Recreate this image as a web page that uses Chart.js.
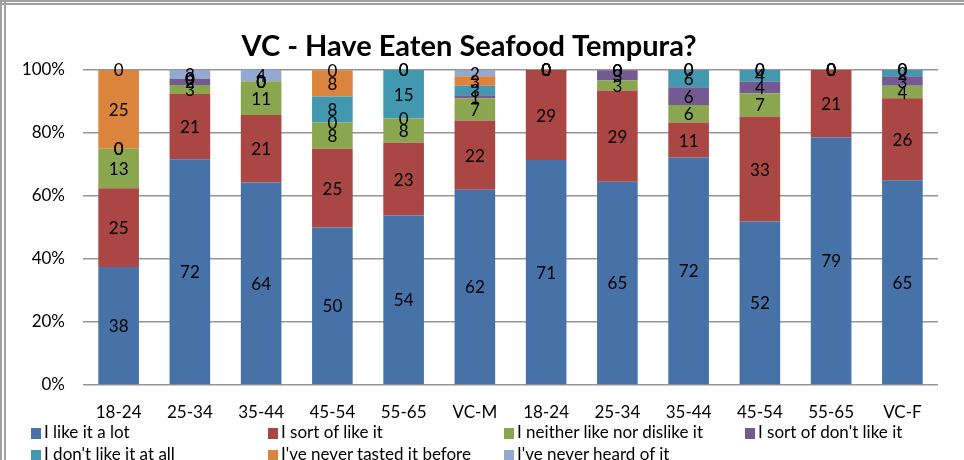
<!DOCTYPE html>
<html>
<head>
<meta charset="utf-8">
<script src="https://cdn.jsdelivr.net/npm/chart.js@4/dist/chart.umd.min.js"></script>
<style>
  html, body { margin: 0; padding: 0; background: #fff; }
  #wrap { position: relative; width: 964px; height: 460px; overflow: hidden; font-family: Lato, "Open Sans", sans-serif; }
  #c { position: absolute; left: 0; top: 0; }
  .frameL { position: absolute; left: 0; top: 0; height: 460px; border-left: 2px solid #a0a0a0; border-right: 2px solid #a0a0a0; width: 2px; }
  .frameT { position: absolute; left: 0; top: 0; width: 964px; height: 1px; border-top: 2px solid #a0a0a0; border-bottom: 2px solid #a0a0a0; }
  .leg { position: absolute; font-size: 17px; color: #000; white-space: nowrap; line-height: 20px; }
  .leg i { display: inline-block; width: 10px; height: 11px; margin-right: 3px; vertical-align: -1px; }
</style>
</head>
<body>
<div id="wrap">
  <canvas id="c" width="964" height="460"></canvas>
  <div class="frameL"></div>
  <div class="frameT"></div>
  <div id="legend"></div>
</div>
<script>
const categories = ["18-24","25-34","35-44","45-54","55-65","VC-M","18-24","25-34","35-44","45-54","55-65","VC-F"];
const seriesNames = ["I like it a lot","I sort of like it","I neither like nor dislike it","I sort of don't like it","I don't like it at all","I've never tasted it before","I've never heard of it"];
const likeALot      = [37.5, 71.7, 64.3, 50.0, 53.8, 62, 71.4, 64.5, 72.2, 51.9, 78.6, 65];
const sortOfLike    = [25.0, 20.7, 21.4, 25.0, 23.1, 22, 28.6, 29.0, 11.1, 33.3, 21.4, 26];
const neither       = [12.5,  2.8, 10.7,  8.3,  7.7,  7,  0,    3.2,  5.6,  7.4,  0,    4];
const sortOfDont    = [ 0,    2.0,  0,    0,    0,    1,  0,    3.2,  5.6,  3.7,  0,    3];
const dontAtAll     = [ 0,    0,    0,    8.3, 15.4,  3,  0,    0,    5.6,  3.7,  0,    2];
const neverTasted   = [25.0,  0,    0,    8.3,  0,    3,  0,    0,    0,    0,    0,    0];
const neverHeard    = [ 0,    2.8,  3.6,  0,    0,    2,  0,    0,    0,    0,    0,    0];
const yTicks = ["0%","20%","40%","60%","80%","100%"];
const colors = ["#4672A8","#AA4643","#8AA64F","#735A90","#4198AF","#DB843D","#94A9D0"];

const seriesValues = [likeALot, sortOfLike, neither, sortOfDont, dontAtAll, neverTasted, neverHeard];

const datasets = seriesValues.map((vals, i) => ({
  label: seriesNames[i],
  data: vals,
  backgroundColor: colors[i],
  borderWidth: 0,
  categoryPercentage: 1.0,
  barPercentage: 0.57
}));

const labelPlugin = {
  id: 'segLabels',
  afterDatasetsDraw(chart) {
    const ctx = chart.ctx;
    ctx.save();
    ctx.font = '17px Lato, "Open Sans", sans-serif';
    ctx.fillStyle = '#000';
    ctx.textAlign = 'center';
    ctx.textBaseline = 'middle';
    chart.data.datasets.forEach((ds, di) => {
      const meta = chart.getDatasetMeta(di);
      meta.data.forEach((el, i) => {
        const v = ds.data[i];
        const yc = (el.y + el.base) / 2;
        ctx.fillText(String(Math.round(v)), el.x, yc + 1);
      });
    });
    ctx.restore();
  }
};

Chart.defaults.font.family = 'Lato, "Open Sans", sans-serif';
Chart.defaults.color = '#000';

new Chart(document.getElementById('c'), {
  type: 'bar',
  data: { labels: categories, datasets },
  options: {
    responsive: false,
    animation: false,
    devicePixelRatio: 1,
    layout: { padding: { left: 0, right: 26, top: 0, bottom: 40 } },
    plugins: {
      legend: { display: false },
      tooltip: { enabled: false },
      title: {
        display: true,
        text: 'VC - Have Eaten Seafood Tempura?',
        font: { size: 29, weight: 'bold' },
        color: '#000',
        padding: { top: 29, bottom: 6.2 }
      }
    },
    scales: {
      x: {
        stacked: true,
        grid: { display: false, drawTicks: false },
        border: { display: false },
        ticks: { font: { size: 17 }, padding: 17, maxRotation: 0, autoSkip: false },
        afterFit(s) { s.height = 35; }
      },
      y: {
        stacked: true,
        min: 0, max: 100,
        grid: { color: '#959595', lineWidth: 1.6, drawTicks: false },
        border: { display: false },
        ticks: {
          stepSize: 20,
          font: { size: 17 },
          padding: 18,
          callback: (v) => yTicks[Math.round(v / 20)]
        },
        afterFit(s) { s.width = 83; }
      }
    }
  },
  plugins: [labelPlugin]
});

// HTML legend
const legPos = [[31,422],[268,422],[504,422],[745,422],[31,444],[268,444],[504,444]];
const legend = document.getElementById('legend');
seriesNames.forEach((n, i) => {
  const d = document.createElement('div');
  d.className = 'leg';
  d.style.left = legPos[i][0] + 'px';
  d.style.top = legPos[i][1] + 'px';
  d.innerHTML = '<i style="background:' + colors[i] + '"></i>';
  d.appendChild(document.createTextNode(n));
  legend.appendChild(d);
});
</script>
</body>
</html>
